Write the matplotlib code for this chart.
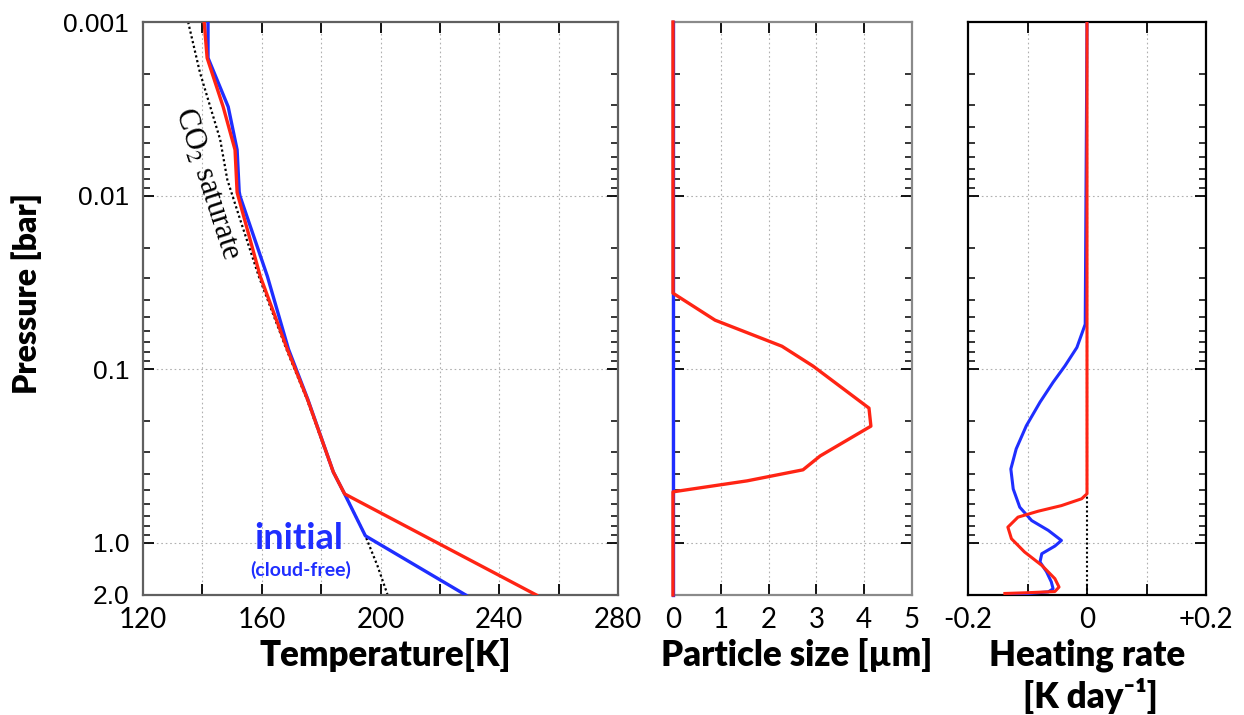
import numpy as np
import matplotlib
matplotlib.use("Agg")
import matplotlib.pyplot as plt
from matplotlib.ticker import FixedLocator, FixedFormatter, NullFormatter

plt.rcParams.update({"font.family": ["Lato", "DejaVu Sans"], "mathtext.fontset": "stix"})

RED = "#ff2414"
BLUE = "#1f2eff"

# temperature profiles (K) vs pressure (bar)
p_temp_blue = [0.001, 0.00161, 0.00308, 0.00545, 0.0095, 0.0101, 0.0292,
               0.0767, 0.149, 0.391, 0.523, 0.912, 2.0]
T_blue = [141.9, 141.9, 148.7, 151.7, 152.4, 152.7, 161.9,
          169.0, 175.5, 184.1, 187.9, 194.9, 228.7]
p_temp_red = [0.001, 0.00161, 0.00308, 0.00545, 0.0096, 0.0292,
              0.0767, 0.149, 0.391, 0.523, 1.0, 2.0]
T_red = [140.6, 141.6, 147.0, 151.0, 151.7, 159.5,
         168.6, 175.4, 184.1, 187.9, 219.1, 252.5]
p_sat = [0.001, 0.00196, 0.00476, 0.0081, 0.0137, 0.0292, 0.0767, 0.149,
         0.391, 0.523, 0.912, 1.36, 2.0]
T_sat = [135.2, 139.2, 146.0, 148.4, 152.7, 159.0, 168.3, 175.2,
         184.0, 187.9, 194.9, 199.0, 202.4]

# cloud particle size (um)
p_size_blue = [0.001, 2.0]
size_blue = [0.0, 0.0]
p_size_red = [0.001, 0.0365, 0.0522, 0.0738, 0.096, 0.1676, 0.213, 0.316,
              0.380, 0.44, 0.509, 2.0]
size_red = [0.0, 0.0, 0.88, 2.28, 2.93, 4.10, 4.14, 3.08, 2.72, 1.55, 0.0, 0.0]

# heating rate (K/day)
p_heat_blue = [0.001, 0.0551, 0.0750, 0.0957, 0.119, 0.155, 0.212, 0.288, 0.376,
               0.490, 0.624, 0.745, 0.849, 0.970, 1.045, 1.157, 1.29, 1.47, 1.68,
               1.84, 1.92, 2.0]
H_blue = [0.0, -0.003, -0.017, -0.037, -0.057, -0.079, -0.102, -0.119, -0.128,
          -0.124, -0.113, -0.093, -0.065, -0.043, -0.054, -0.076, -0.079, -0.068,
          -0.060, -0.057, -0.065, -0.133]
p_heat_red = [0.001, 0.522, 0.558, 0.611, 0.658, 0.712, 0.813, 0.948, 1.13, 1.35,
              1.61, 1.80, 1.91, 1.94, 1.96]
H_red = [0.0, 0.0, -0.009, -0.043, -0.082, -0.116, -0.133, -0.127, -0.105, -0.076,
         -0.054, -0.047, -0.054, -0.099, -0.138]

p_major = [0.001, 0.01, 0.1, 1.0, 2.0]
p_labels = ["0.001", "0.01", "0.1", "1.0", "2.0"]
p_minor = [m * 10.0 ** k for k in (-3, -2, -1) for m in range(2, 10)]

W, H = 1244, 715
fig = plt.figure(figsize=(W / 100, H / 100), dpi=100)
y0, hgt = 1 - 595 / H, (595 - 22) / H
axT = fig.add_axes([143 / W, y0, 475 / W, hgt])
axS = fig.add_axes([673 / W, y0, 239 / W, hgt])
axH = fig.add_axes([968 / W, y0, 238 / W, hgt])

grid_kw = dict(color="#b0b0b0", lw=0.8, ls=(0, (1.5, 2.5)))


def setup_pressure(ax, spine_color, show_labels):
    ax.set_yscale("log")
    ax.set_ylim(2.0, 0.001)
    ax.yaxis.set_major_locator(FixedLocator(p_major))
    ax.yaxis.set_minor_locator(FixedLocator(p_minor))
    ax.yaxis.set_minor_formatter(NullFormatter())
    if show_labels:
        ax.yaxis.set_major_formatter(FixedFormatter(p_labels))
    else:
        ax.yaxis.set_major_formatter(NullFormatter())
    ax.tick_params(axis="y", which="major", direction="in", length=8, width=1.3,
                   left=True, right=True, pad=10, labelsize=19,
                   labelfontfamily="Liberation Sans")
    ax.tick_params(axis="y", which="minor", direction="in", length=5, width=1.1,
                   left=True, right=True)
    ax.tick_params(axis="x", direction="in", length=8, width=1.3, top=True,
                   bottom=True, pad=9, labelsize=20)
    for s in ax.spines.values():
        s.set_color(spine_color)
        s.set_linewidth(1.6)
    for gp in (0.01, 0.1, 1.0):
        ax.axhline(gp, zorder=0, **grid_kw)


# temperature panel
axT.plot(T_sat, p_sat, color="black", lw=1.6, ls=(0, (1, 1.2)), zorder=2)
axT.plot(T_blue, p_temp_blue, color=BLUE, lw=2.4, zorder=3)
axT.plot(T_red, p_temp_red, color=RED, lw=2.4, zorder=4)
axT.set_xlim(120, 280)
axT.set_xticks(np.arange(120, 281, 20))
axT.set_xticklabels(["120", "", "160", "", "200", "", "240", "", "280"])
for gx in range(140, 280, 20):
    axT.axvline(gx, zorder=0, **grid_kw)
setup_pressure(axT, "#606060", True)
axT.text(141.4, 0.0086, "CO$_2$ saturate", rotation=-72, ha="center", va="center",
         rotation_mode="anchor", family="Liberation Serif", fontsize=22)
axT.text(172.3, 0.95, "initial", color=BLUE, fontsize=26, fontweight="bold",
         ha="center", va="center")
axT.text(173.0, 1.43, "(cloud-free)", color=BLUE, fontsize=14, fontweight="bold",
         ha="center", va="center")

# particle size panel
axS.plot(size_blue, p_size_blue, color=BLUE, lw=2.4, zorder=3, clip_on=False)
axS.plot(size_red, p_size_red, color=RED, lw=2.4, zorder=4, clip_on=False)
axS.set_xlim(0, 5)
axS.set_xticks(range(0, 6))
for gx in range(1, 5):
    axS.axvline(gx, zorder=0, **grid_kw)
setup_pressure(axS, "#8a8a8a", False)

# heating rate panel
axH.axvline(0, color="black", lw=1.5, ls=(0, (1, 1.2)), zorder=2)
axH.plot(H_blue, p_heat_blue, color=BLUE, lw=2.2, zorder=3)
axH.plot(H_red, p_heat_red, color=RED, lw=2.2, zorder=4)
axH.set_xlim(-0.2, 0.2)
axH.set_xticks([-0.2, -0.1, 0.0, 0.1, 0.2])
axH.set_xticklabels(["-0.2", "", "0", "", "+0.2"])
for gx in (-0.1, 0.1):
    axH.axvline(gx, zorder=0, **grid_kw)
setup_pressure(axH, "black", False)

label_kw = dict(fontsize=25, fontweight="heavy", ha="center", va="center")
fig.text(27 / W, 1 - 294 / H, "Pressure [bar]", rotation=90,
         **{**label_kw, "fontsize": 23})
fig.text(385 / W, 1 - 655 / H, "Temperature[K]", **label_kw)
fig.text(797 / W, 1 - 655 / H, "Particle size [µm]", **label_kw)
fig.text(1087 / W, 1 - 655 / H, "Heating rate", **label_kw)
fig.text(1090 / W, 1 - 696 / H, "[K day⁻¹]", **label_kw)

fig.savefig("out.png", dpi=100)
